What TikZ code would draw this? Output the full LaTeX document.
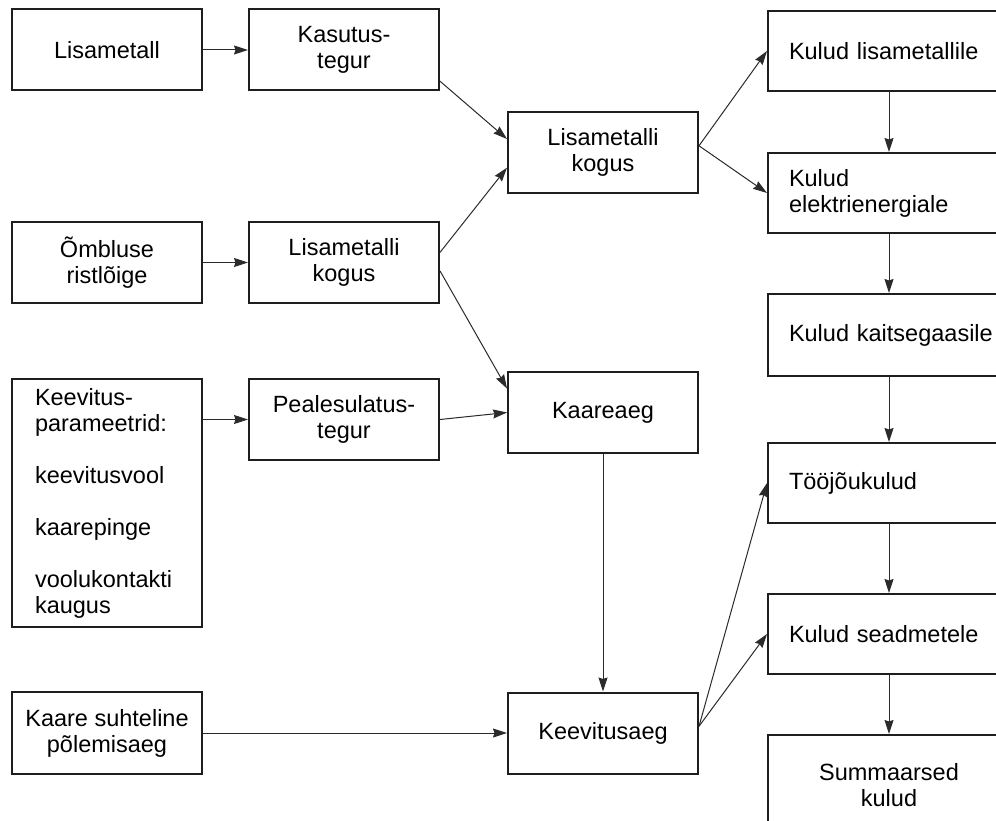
\documentclass[tikz,border=0pt]{standalone}
\usepackage{fontspec}
\setmainfont{Liberation Sans}
\usetikzlibrary{positioning,arrows.meta}
\definecolor{Border}{HTML}{1E1E1E}
\definecolor{Line}{HTML}{2B2B2B}

\begin{document}
\begin{tikzpicture}[
	x=1pt, y=-1pt,
	font=\fontsize{23.5}{26}\selectfont,
	node distance=60pt and 45pt,
	block/.style={draw=Border, line width=2pt, minimum width=190pt,
		minimum height=81pt, inner sep=0pt, align=center},
	costbox/.style={draw=Border, line width=2pt, minimum height=80pt,
		text width=200pt, inner xsep=21pt, inner ysep=0pt, align=left},
	flow/.style={draw=Line, line width=1pt,
		-{Stealth[length=14pt,width=9pt,inset=1.5pt]}}
	]
	
	% page frame
	\useasboundingbox[fill=white] (0,0) rectangle (996,821);
	\clip (0,0) rectangle (996,821);
	
	% Input data
	\node[block] (lisametall) at (107,50) {Lisametall};
	\node[block] (omblus) at (107,262.5) {Õmbluse\\ristlõige};
	\node[block, minimum height=248pt, text width=144pt, inner xsep=23pt,
	align=left] (param) at (107,503)
	{Keevitus-\\parameetrid:\\[26pt]keevitusvool\\[26pt]kaarepinge\\[26pt]voolukontakti\\kaugus};
	\node[block, minimum height=82pt] (kaare) at (107,733)
	{Kaare suhteline\\põlemisaeg};
	
	% Coefficients
	\node[block, right=of lisametall] (kasutus) {Kasutus-\\tegur};
	\node[block, right=of omblus] (lisakogus) {Lisametalli\\kogus};
	\node[block] (peale) at (344,419.5) {Pealesulatus-\\tegur};
	
	% Intermediate results
	\node[block] (kogus) at (603,152.5) {Lisametalli\\kogus};
	\node[block] (kaareaeg) at (603,412.5) {Kaareaeg};
	\node[block] (keevaeg) at (603,733) {Keevitusaeg};
	
	% Costs
	\node[costbox, anchor=north west] (kulmetall) at (767,10)
	{Kulud lisametallile};
	\node[costbox, below=of kulmetall] (kulenergia) {Kulud\\elektrienergiale};
	\node[costbox, minimum height=82pt, below=59pt of kulenergia] (kulgaas)
	{\mbox{Kulud kaitsegaasile}};
	\node[costbox, below=65pt of kulgaas] (tooj) {Tööjõukulud};
	\node[costbox, below=69pt of tooj] (kulseade) {Kulud seadmetele};
	\node[costbox, minimum height=100pt, align=center, below=59pt of kulseade]
	(summa) {Summaarsed\\kulud};
	
	% Connections
	\draw[flow] (lisametall.east) -- (kasutus.west);
	\draw[flow] (omblus.east) -- (lisakogus.west);
	\draw[flow] (param.east |- peale.west) -- (peale.west);
	\draw[flow] (kasutus.-18.6) -- (kogus.172.6);
	\draw[flow] (lisakogus.6.3) -- (kogus.189.2);
	\draw[flow] (lisakogus.-5.7) -- (kaareaeg.166.8);
	\draw[flow] (peale.east) -- (kaareaeg.west);
	\draw[flow] (kaareaeg.south) -- (keevaeg.north);
	\draw[flow] (kaare.east) -- (keevaeg.west);
	\draw[flow] (kogus.4.5) -- (kulmetall.west);
	\draw[flow] (kogus.4.5) -- (kulenergia.west);
	\draw[flow] (keevaeg.4.8) -- (tooj.west);
	\draw[flow] (keevaeg.4.8) -- (kulseade.west);
	
	\draw[flow] (kulmetall.south) -- (kulenergia.north);
	\draw[flow] (kulenergia.south) -- (kulgaas.north);
	\draw[flow] (kulgaas.south) -- (tooj.north);
	\draw[flow] (tooj.south) -- (kulseade.north);
	\draw[flow] (kulseade.south) -- (summa.north);
	
\end{tikzpicture}
\end{document}
